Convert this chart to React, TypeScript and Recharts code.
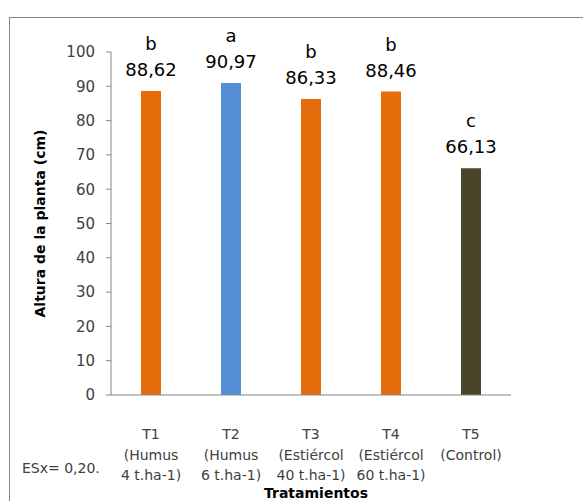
import React from 'react'
import { Bar, BarChart, Cell, LabelList, XAxis, YAxis, Label } from 'recharts'

// categories and values
const codes = ['T1', 'T2', 'T3', 'T4', 'T5']
const descLine1 = ['(Humus', '(Humus', '(Estiércol', '(Estiércol', '(Control)']
const descLine2 = ['4 t.ha-1)', '6 t.ha-1)', '40 t.ha-1)', '60 t.ha-1)', '']
const heights = [88.62, 90.97, 86.33, 88.46, 66.13]
const letters = ['b', 'a', 'b', 'b', 'c']
const barColors = ['#E46C0A', '#558ED5', '#E46C0A', '#E46C0A', '#4A452A']
const yTicks = [0, 10, 20, 30, 40, 50, 60, 70, 80, 90, 100]

const data = codes.map((c, i) => ({
  code: c,
  l1: descLine1[i],
  l2: descLine2[i],
  altura: heights[i],
  letter: letters[i],
}))

const FONT = '"DejaVu Sans", sans-serif'

const renderTick = ({ x, y, payload }: any) => {
  const row = data[payload.index] || data.find((d) => d.code === payload.value)
  const lines = [row.code, row.l1, row.l2].filter(Boolean)
  return (
    <g transform={`translate(${x},${y})`}>
      {lines.map((t, i) => (
        <text key={i} x={0} y={36 + i * 20.5} textAnchor="middle" fill="#404040" fontSize={14} fontFamily={FONT}>
          {t}
        </text>
      ))}
    </g>
  )
}

const renderTopLabel = (props: any) => {
  const { x, y, width, index } = props
  const row = data[index]
  const cx = x + width / 2
  return (
    <g>
      <text x={cx} y={y - 41} textAnchor="middle" fill="#000" fontSize={18} fontFamily={FONT}>
        {row.letter}
      </text>
      <text x={cx} y={y - 15} textAnchor="middle" fill="#000" fontSize={18} fontFamily={FONT}>
        {row.altura.toFixed(2).replace('.', ',')}
      </text>
    </g>
  )
}

const App = () => {
  return (
    <div style={{ position: 'absolute', left: 0, top: 0, width: 583, height: 501, overflow: 'hidden', background: '#fff' }}>
      <div
        style={{
          position: 'absolute',
          left: 9,
          top: 17,
          width: 600,
          height: 520,
          border: '1px solid #868686',
        }}
      />
      <div style={{ position: 'absolute', left: 0, top: 0 }}>
        <BarChart
          width={583}
          height={501}
          data={data}
          barSize={20}
          margin={{ top: 52, right: 72, left: 51, bottom: 26 }}
        >
          <XAxis
            dataKey="code"
            interval={0}
            height={80}
            tick={renderTick}
            tickLine={false}
            axisLine={{ stroke: '#868686' }}
          />
          <YAxis
            width={60}
            domain={[0, 100]}
            ticks={yTicks}
            interval={0}
            tickSize={5}
            tickMargin={11}
            tickLine={{ stroke: '#868686' }}
            axisLine={{ stroke: '#868686' }}
            tick={{ fill: '#404040', fontSize: 15, fontFamily: FONT }}
          >
            <Label
              value="Altura de la planta (cm)"
              angle={-90}
              position="insideLeft"
              offset={-11}
              style={{ textAnchor: 'middle' }}
              fill="#000"
              fontSize={14}
              fontWeight="bold"
              fontFamily={FONT}
            />
          </YAxis>
          <Bar dataKey="altura" isAnimationActive={false}>
            {data.map((d, i) => (
              <Cell key={d.code} fill={barColors[i]} />
            ))}
            <LabelList dataKey="altura" content={renderTopLabel} />
          </Bar>
        </BarChart>
      </div>
      <div
        style={{
          position: 'absolute',
          left: 22,
          top: 458,
          fontFamily: FONT,
          fontSize: 14,
          lineHeight: '20px',
          color: '#404040',
          whiteSpace: 'nowrap',
        }}
      >
        ESx= 0,20.
      </div>
      <div
        style={{
          position: 'absolute',
          left: 211,
          width: 210,
          top: 484,
          textAlign: 'center',
          fontFamily: FONT,
          fontSize: 14,
          lineHeight: '18px',
          fontWeight: 'bold',
          color: '#000',
          whiteSpace: 'nowrap',
        }}
      >
        Tratamientos
      </div>
    </div>
  )
}

export default App
